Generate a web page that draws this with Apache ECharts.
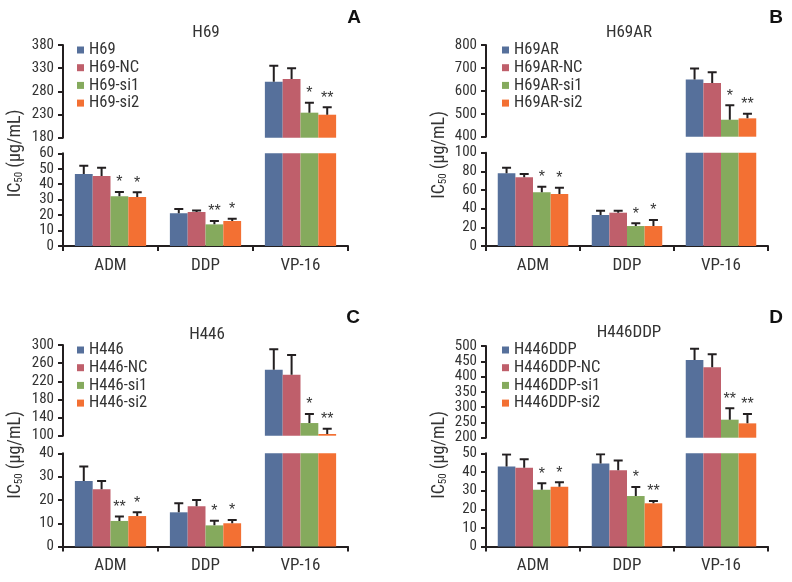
<!DOCTYPE html>
<html>
<head>
<meta charset="utf-8">
<script src="https://cdn.jsdelivr.net/npm/echarts@6/dist/echarts.min.js"></script>
<style>
  html, body { margin: 0; padding: 0; background: #fff; }
  #chart { width: 792px; height: 582px; }
</style>
</head>
<body>
<div id="chart"></div>
<script>
// shared
var categories = ['ADM', 'DDP', 'VP-16'];
var colors = ['#56709b', '#bf5f6b', '#85aa5d', '#f37033'];

// A - H69
var h69Groups = ['H69', 'H69-NC', 'H69-si1', 'H69-si2'];
var h69Mean = [[46.6, 21.2, 300.9], [45.3, 22.0, 306.6], [32.2, 14.0, 234.0], [31.7, 16.2, 229.6]];
var h69Err = [[5.4, 2.8, 34.5], [5.4, 0.9, 23.0], [2.8, 2.2, 21.5], [3.1, 1.5, 15.9]];
var h69Stars = [['', '', ''], ['', '', ''], ['*', '**', '*'], ['*', '*', '**']];
var h69UpperTicks = [180, 230, 280, 330, 380];
var h69LowerTicks = [0, 10, 20, 30, 40, 50, 60];

// B - H69AR
var h69arGroups = ['H69AR', 'H69AR-NC', 'H69AR-si1', 'H69AR-si2'];
var h69arMean = [[77.9, 33.2, 650], [73.6, 35.7, 634], [57.5, 21.4, 474], [55.7, 21.4, 480]];
var h69arErr = [[6.0, 4.7, 48], [3.5, 2.2, 46.7], [6.1, 2.9, 62.7], [6.8, 6.5, 20.4]];
var h69arStars = [['', '', ''], ['', '', ''], ['*', '*', '*'], ['*', '*', '**']];
var h69arUpperTicks = [400, 500, 600, 700, 800];
var h69arLowerTicks = [0, 20, 40, 60, 80, 100];

// C - H446
var h446Groups = ['H446', 'H446-NC', 'H446-si1', 'H446-si2'];
var h446Mean = [[28.1, 14.7, 245.6], [24.6, 17.3, 234.6], [11.0, 9.1, 127.9], [13.1, 10.0, 103.7]];
var h446Err = [[6.2, 3.9, 44.8], [3.5, 2.7, 43.3], [1.9, 2.0, 19.9], [1.6, 1.4, 11.7]];
var h446Stars = [['', '', ''], ['', '', ''], ['**', '*', '*'], ['*', '*', '**']];
var h446UpperTicks = [100, 140, 180, 220, 260, 300];
var h446LowerTicks = [0, 10, 20, 30, 40];

// D - H446DDP
var h446ddpGroups = ['H446DDP', 'H446DDP-NC', 'H446DDP-si1', 'H446DDP-si2'];
var h446ddpMean = [[42.9, 44.6, 454.2], [42.3, 40.9, 430.2], [30.4, 27.1, 258.9], [32.1, 23.2, 246.9]];
var h446ddpErr = [[6.4, 4.9, 37.1], [4.5, 5.2, 42.5], [3.5, 4.9, 37.1], [2.4, 1.3, 30.6]];
var h446ddpStars = [['', '', ''], ['', '', ''], ['*', '*', '**'], ['*', '**', '**']];
var h446ddpUpperTicks = [200, 250, 300, 350, 400, 450, 500];
var h446ddpLowerTicks = [0, 10, 20, 30, 40, 50];

var NARROW = '"Roboto Condensed", "Liberation Sans Narrow", "DejaVu Sans Condensed", sans-serif';
var INK = '#231f20';
var TXT = '#333';
var GAP = 0.25;

// panel layout (pixels)
var panels = [
  { title: 'H69', letter: 'A', groups: h69Groups, mean: h69Mean, err: h69Err, stars: h69Stars,
    up: h69UpperTicks, low: h69LowerTicks,
    left: 63, width: 285, upTop: 45, upH: 92.7, lowTop: 153.3, lowH: 92.7,
    titlePos: [206, 33], letterPos: [354, 18], namePos: [15, 153.5], legendPos: [77, 41.5] },
  { title: 'H69AR', letter: 'B', groups: h69arGroups, mean: h69arMean, err: h69arErr, stars: h69arStars,
    up: h69arUpperTicks, low: h69arLowerTicks,
    left: 486, width: 282, upTop: 45, upH: 91.7, lowTop: 152.7, lowH: 93.3,
    titlePos: [629, 33], letterPos: [776, 18], namePos: [439, 155], legendPos: [502, 41.5] },
  { title: 'H446', letter: 'C', groups: h446Groups, mean: h446Mean, err: h446Err, stars: h446Stars,
    up: h446UpperTicks, low: h446LowerTicks,
    left: 63, width: 285, upTop: 345, upH: 90.7, lowTop: 453.3, lowH: 93.3,
    titlePos: [207, 335], letterPos: [353, 318], namePos: [15, 455], legendPos: [77, 341.5] },
  { title: 'H446DDP', letter: 'D', groups: h446ddpGroups, mean: h446ddpMean, err: h446ddpErr, stars: h446ddpStars,
    up: h446ddpUpperTicks, low: h446ddpLowerTicks,
    left: 486, width: 282, upTop: 346, upH: 91.7, lowTop: 453.3, lowH: 93.3,
    titlePos: [629, 333], letterPos: [776, 318], namePos: [439, 455], legendPos: [502, 341.5] }
];

function yAxisFor(ticks, gridIndex) {
  return {
    type: 'value', gridIndex: gridIndex,
    min: ticks[0], max: ticks[ticks.length - 1], interval: ticks[1] - ticks[0],
    splitLine: { show: false },
    axisLine: { show: true, lineStyle: { color: INK, width: 2 } },
    axisTick: { show: true, length: 5, lineStyle: { color: INK, width: 2 } },
    axisLabel: { color: TXT, fontSize: 15, fontFamily: NARROW, margin: 9,
      showMinLabel: true, showMaxLabel: true, hideOverlap: false }
  };
}

// error bar + significance marks, drawn through the axes
function errorRender(k, stars) {
  return function (params, api) {
    var cat = api.value(0);
    var base = api.coord([cat, api.value(1)]);
    var top = api.coord([cat, api.value(2)]);
    var band = api.size([1, 0])[0];
    var bw = band * (1 - GAP) / 4;
    var x = base[0] + (k - 1.5) * bw;
    var children = [
      { type: 'line', shape: { x1: x, y1: base[1], x2: x, y2: top[1] }, style: { stroke: INK, lineWidth: 2 } },
      { type: 'line', shape: { x1: x - 4.5, y1: top[1], x2: x + 4.5, y2: top[1] }, style: { stroke: INK, lineWidth: 2 } }
    ];
    var s = stars[k][cat];
    if (s) {
      children.push({ type: 'text', x: x, y: top[1] - 1,
        style: { text: s, fill: TXT, font: '16px "Liberation Sans", sans-serif', textAlign: 'center', textVerticalAlign: 'bottom' } });
    }
    return { type: 'group', children: children };
  };
}

var grid = [], xAxis = [], yAxis = [], series = [], legend = [], graphic = [];

panels.forEach(function (p, pi) {
  var gu = pi * 2, gl = pi * 2 + 1;
  grid.push({ left: p.left, top: p.upTop, width: p.width, height: p.upH });
  grid.push({ left: p.left, top: p.lowTop, width: p.width, height: p.lowH });

  xAxis.push({ type: 'category', gridIndex: gu, data: categories, show: false });
  xAxis.push({
    type: 'category', gridIndex: gl, data: categories,
    axisLine: { lineStyle: { color: INK, width: 2 } },
    axisTick: { show: true, length: 5, lineStyle: { color: INK, width: 2 } },
    axisLabel: { color: TXT, fontSize: 17, fontFamily: NARROW, margin: 11 }
  });
  yAxis.push(yAxisFor(p.up, gu));
  yAxis.push(yAxisFor(p.low, gl));

  [gu, gl].forEach(function (g) {
    p.groups.forEach(function (name, k) {
      series.push({
        type: 'bar', name: name, xAxisIndex: g, yAxisIndex: g,
        data: p.mean[k], itemStyle: { color: colors[k] },
        barGap: '0%', barCategoryGap: (GAP * 100) + '%', clip: true
      });
    });
    p.groups.forEach(function (name, k) {
      series.push({
        type: 'custom', xAxisIndex: g, yAxisIndex: g, clip: true, silent: true,
        itemStyle: { color: colors[k] },
        data: p.mean[k].map(function (v, i) { return [i, v, v + p.err[k][i]]; }),
        renderItem: errorRender(k, p.stars), z: 3
      });
    });
  });

  legend.push({
    data: p.groups, orient: 'vertical', left: p.legendPos[0], top: p.legendPos[1],
    icon: 'rect', itemWidth: 7, itemHeight: 7, itemGap: 0.7, padding: 0, selectedMode: false,
    textStyle: { color: TXT, fontSize: 16.5, fontFamily: NARROW, lineHeight: 16 }
  });

  graphic.push({ type: 'text', x: p.titlePos[0], y: p.titlePos[1],
    style: { text: p.title, fill: TXT, font: '17px ' + NARROW, textAlign: 'center', textVerticalAlign: 'middle' } });
  graphic.push({ type: 'text', x: p.letterPos[0], y: p.letterPos[1],
    style: { text: p.letter, fill: '#111', font: 'bold 19px "Liberation Sans", sans-serif', textAlign: 'center', textVerticalAlign: 'middle' } });
  graphic.push({ type: 'text', x: p.namePos[0], y: p.namePos[1], rotation: Math.PI / 2,
    style: {
      text: '{a|IC}{s|50}{a| (μg/mL)}', fill: TXT, textAlign: 'center', textVerticalAlign: 'middle',
      rich: {
        a: { fontSize: 18, fontFamily: NARROW, fill: TXT, color: TXT, lineHeight: 20 },
        s: { fontSize: 11, fontFamily: NARROW, fill: TXT, color: TXT, lineHeight: 13, verticalAlign: 'bottom' }
      }
    } });
});

var myChart = echarts.init(document.getElementById('chart'));
myChart.setOption({
  animation: false,
  grid: grid, xAxis: xAxis, yAxis: yAxis,
  legend: legend, series: series, graphic: graphic
});
</script>
</body>
</html>
